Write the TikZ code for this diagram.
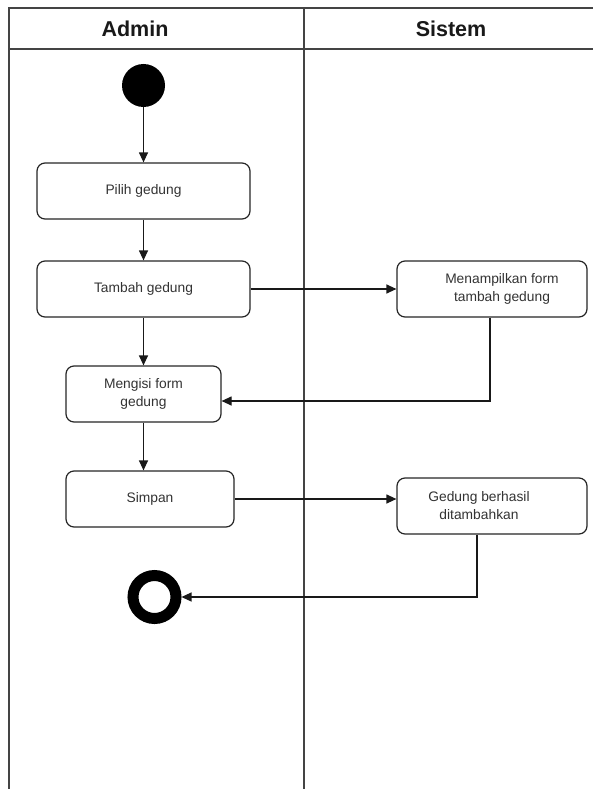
\documentclass[tikz,border=0pt]{standalone}
\usepackage{fontspec}
\setmainfont{Liberation Sans}
\usetikzlibrary{arrows.meta}
\definecolor{txtgray}{HTML}{333333}
\definecolor{framegray}{HTML}{444444}
\begin{document}
\begin{tikzpicture}[x=1pt,y=-1pt,
  act/.style={draw=black!85, line width=1.2pt, rounded corners=8pt, fill=white, inner sep=0pt},
  txt/.style={text=txtgray, font=\fontsize{13.8pt}{18pt}\selectfont, align=center},
  hdr/.style={font=\fontsize{21.5pt}{24pt}\selectfont\bfseries, text=black!90},
  flow/.style={draw=black!90, line width=1.2pt, -{Triangle[length=10pt,width=9pt]}},
  lane/.style={draw=framegray, line width=1.5pt}
]
\useasboundingbox (0,0) rectangle (592,789);
% swimlane frame
\coordinate (tl) at (9,8);
\coordinate (tr) at (600,8);
\coordinate (bl) at (9,795);
\coordinate (hl) at (9,49);
\coordinate (hr) at (600,49);
\coordinate (dt) at (304,8);
\coordinate (db) at (304,795);
\draw[lane] (tr) -- (tl) -- (bl);
\draw[lane] (hl) -- (hr);
\draw[lane] (dt) -- (db);
\node[hdr] (hadmin) at (135,29) {Admin};
\node[hdr] (hsistem) at (451,29) {Sistem};

% start
\node[circle, fill=black, minimum size=43pt, inner sep=0pt] (start) at (143.5,85.5) {};

% activities
\node[act, minimum width=213pt, minimum height=56pt, label={[txt]center:Pilih gedung}] (pilih) at (143.5,191) {};
\node[act, minimum width=213pt, minimum height=56pt, label={[txt]center:Tambah gedung}] (tambah) at (143.5,289) {};
\node[act, minimum width=190pt, minimum height=56pt, label={[txt,xshift=10pt]center:Menampilkan form\\tambah gedung}] (tampil) at (492,289) {};
\node[act, minimum width=155pt, minimum height=56pt, label={[txt]center:Mengisi form\\gedung}] (isi) at (143.5,394) {};
\node[act, minimum width=168pt, minimum height=56pt, label={[txt]center:Simpan}] (simpan) at (150,499) {};
\node[act, minimum width=190pt, minimum height=56pt, label={[txt,xshift=-13pt]center:Gedung berhasil\\ditambahkan}] (hasil) at (492,506) {};

% end
\node[circle, draw=black, line width=11pt, minimum size=43pt, inner sep=0pt] (end) at (154.5,597) {};

% connectors
\draw[flow] (start) -- (pilih);
\draw[flow] (pilih) -- (tambah);
\draw[flow] (tambah) -- (isi);
\draw[flow] (tambah.east) -- (tambah.east -| tampil.west);
\draw[flow] ([xshift=-2pt]tampil.south) |- ([yshift=-7pt]isi.east);
\draw[flow] (isi.south) -- (isi.south |- simpan.north);
\draw[flow] (simpan.east) -- (simpan.east -| hasil.west);
\draw[flow] ([xshift=-15pt]hasil.south) |- (end.east);
\end{tikzpicture}
\end{document}
